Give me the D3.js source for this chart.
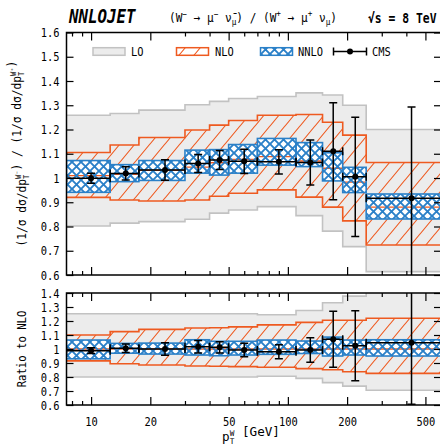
<!DOCTYPE html>
<html>
<head>
<meta charset="utf-8">
<script src="https://cdn.jsdelivr.net/npm/d3@7"></script>
<style>
  html, body { margin: 0; padding: 0; background: #fff; }
  svg { display: block; font-family: "DejaVu Sans Mono", monospace; }
</style>
</head>
<body>
<svg id="chart" width="440" height="448"></svg>
<script>
// ---- bins in pT^W [GeV] ----
const binEdges = [7.5, 12.5, 17.5, 30, 40, 50, 70, 110, 150, 190, 250, 600];

// ---- upper panel: (1/σ dσ/dpT)(W-) / (1/σ dσ/dpT)(W+) ----
const loLow      = [0.802, 0.814, 0.820, 0.830, 0.855, 0.868, 0.882, 0.845, 0.781, 0.717, 0.614];
const loHigh     = [1.259, 1.266, 1.280, 1.302, 1.316, 1.328, 1.336, 1.351, 1.342, 1.300, 1.200];
const nloLow     = [0.920, 0.909, 0.905, 0.909, 0.925, 0.937, 0.951, 0.921, 0.880, 0.823, 0.724];
const nloHigh    = [1.105, 1.136, 1.167, 1.198, 1.218, 1.237, 1.259, 1.262, 1.230, 1.177, 1.064];
const nloCentral = [1.010, 1.015, 1.032, 1.045, 1.063, 1.077, 1.088, 1.070, 1.040, 0.983, 0.880];
const nnloLow    = [0.941, 0.985, 0.990, 1.020, 1.012, 1.020, 1.053, 1.047, 0.988, 0.940, 0.831];
const nnloHigh   = [1.072, 1.055, 1.072, 1.115, 1.117, 1.138, 1.163, 1.146, 1.104, 1.044, 0.934];

const cmsPt  = [10, 15, 23.75, 35, 45, 60, 90, 130, 170, 220, 425];
const cmsVal = [0.999, 1.019, 1.033, 1.060, 1.074, 1.069, 1.067, 1.064, 1.110, 1.005, 0.916];
const cmsErr = [0.021, 0.027, 0.042, 0.037, 0.039, 0.050, 0.050, 0.093, 0.200, 0.246, 0.377];

// ---- lower panel: ratio to NLO ----
const loRatioLow    = [0.800, 0.800, 0.800, 0.800, 0.800, 0.800, 0.805, 0.790, 0.760, 0.735, 0.705];
const loRatioHigh   = [1.252, 1.252, 1.252, 1.252, 1.252, 1.252, 1.245, 1.275, 1.330, 1.378, 1.420];
const nloRatioLow   = [0.915, 0.895, 0.886, 0.879, 0.877, 0.874, 0.870, 0.860, 0.852, 0.838, 0.826];
const nloRatioHigh  = [1.100, 1.124, 1.140, 1.150, 1.152, 1.158, 1.172, 1.190, 1.205, 1.205, 1.220];
const nnloRatioLow  = [0.930, 0.970, 0.964, 0.957, 0.952, 0.957, 0.962, 0.968, 0.950, 0.957, 0.950];
const nnloRatioHigh = [1.064, 1.040, 1.042, 1.066, 1.055, 1.055, 1.064, 1.057, 1.085, 1.064, 1.066];
const cmsRatioVal   = [0.988, 1.005, 1.000, 1.016, 1.012, 0.993, 0.981, 0.993, 1.069, 1.024, 1.045];
const cmsRatioErr   = [0.021, 0.030, 0.045, 0.045, 0.040, 0.048, 0.050, 0.087, 0.200, 0.250, 0.440];

// ---- axis ticks ----
const xMajorTicks = [10, 20, 50, 100, 200, 500];
const xMinorTicks = [8, 9, 30, 40, 60, 70, 80, 90, 300, 400];
const yTicksMain  = [0.6, 0.7, 0.8, 0.9, 1, 1.1, 1.2, 1.3, 1.4, 1.5, 1.6];
const yTicksRatio = [0.6, 0.7, 0.8, 0.9, 1, 1.1, 1.2, 1.3, 1.4];

const legendLabels = ["LO", "NLO", "NNLO", "CMS"];

// ---- styling ----
const LO_FILL = "#ececec", LO_EDGE = "#c2c2c2";
const NLO_COL = "#ee5a20";
const NNLO_COL = "#2a80c8";
const FONT = 13, SQUEEZE = 0.8;

const svg = d3.select("#chart");
const defs = svg.append("defs");

// single diagonal hatch for NLO
const hw = 15, hh = 18;
defs.append("pattern")
  .attr("id", "nloHatch").attr("patternUnits", "userSpaceOnUse")
  .attr("width", hw).attr("height", hh)
  .append("path")
  .attr("d", `M0,${hh} L${hw},0 M${-hw/4},${hh/4} L${hw/4},${-hh/4} M${3*hw/4},${5*hh/4} L${5*hw/4},${3*hh/4}`)
  .attr("stroke", NLO_COL).attr("stroke-width", 1.1).attr("fill", "none");

// cross hatch for NNLO
const cs = 9;
defs.append("pattern")
  .attr("id", "nnloCross").attr("patternUnits", "userSpaceOnUse")
  .attr("width", cs).attr("height", cs)
  .append("path")
  .attr("d", `M-1,-1 L${cs+1},${cs+1} M${cs+1},-1 L-1,${cs+1}`)
  .attr("stroke", NNLO_COL).attr("stroke-width", 1.9).attr("fill", "none");

// squeeze monospace text horizontally
function squeeze(sel, k) {
  sel.each(function () {
    const len = this.getComputedTextLength();
    if (len > 0) d3.select(this).attr("textLength", len * k).attr("lengthAdjust", "spacingAndGlyphs");
  });
}

// text (possibly with tspans) fitted to a given width by a horizontal scale
function fitText(build, { x, y, width, anchor = "start", rotate = 0, size = FONT, weight = "normal", style = "normal" }) {
  const g = svg.append("g");
  const t = g.append("text")
    .attr("font-size", size).attr("font-weight", weight).attr("font-style", style)
    .attr("fill", "#000");
  build(t);
  const w = t.node().getBBox().width;
  t.attr("text-anchor", anchor);
  const k = width / w;
  g.attr("transform", `translate(${x},${y})` + (rotate ? ` rotate(${rotate})` : "") + ` scale(${k},1)`);
  return g;
}

const X0 = 66.5, X1 = 441;
const x = d3.scaleLog().domain([binEdges[0], binEdges[binEdges.length - 1]]).range([X0, X1]);

const bins = binEdges.slice(0, -1).map((e, i) => ({ i, x0: e, x1: binEdges[i + 1] }));

function stepPoints(lo, hi) {
  const pts = bins.map(b => ({ x: b.x0, lo: lo[b.i], hi: hi[b.i] }));
  const n = bins.length - 1;
  pts.push({ x: binEdges[n + 1], lo: lo[n], hi: hi[n] });
  return pts;
}

function drawPanel(cfg) {
  const y = d3.scaleLinear().domain(cfg.domain).range([cfg.bottom, cfg.top]);

  defs.append("clipPath").attr("id", cfg.id + "Clip")
    .append("rect").attr("x", X0).attr("y", cfg.top)
    .attr("width", X1 - X0).attr("height", cfg.bottom - cfg.top);
  const g = svg.append("g").attr("clip-path", `url(#${cfg.id}Clip)`);

  const area = d3.area().curve(d3.curveStepAfter).x(d => x(d.x)).y0(d => y(d.lo)).y1(d => y(d.hi));
  const hiLine = d3.line().curve(d3.curveStepAfter).x(d => x(d.x)).y(d => y(d.hi));
  const loLine = d3.line().curve(d3.curveStepAfter).x(d => x(d.x)).y(d => y(d.lo));

  // LO band
  const lo = stepPoints(cfg.lo[0], cfg.lo[1]);
  g.append("path").attr("d", area(lo)).attr("fill", LO_FILL);
  [hiLine, loLine].forEach(l => g.append("path").attr("d", l(lo))
    .attr("fill", "none").attr("stroke", LO_EDGE).attr("stroke-width", 1.6));

  // NLO band
  const nlo = stepPoints(cfg.nlo[0], cfg.nlo[1]);
  g.append("path").attr("d", area(nlo)).attr("fill", "url(#nloHatch)");
  [hiLine, loLine].forEach(l => g.append("path").attr("d", l(nlo))
    .attr("fill", "none").attr("stroke", NLO_COL).attr("stroke-width", 1.6));

  // NNLO band, one box per bin
  const boxY = b => y(cfg.nnlo[1][b.i]);
  const boxH = b => y(cfg.nnlo[0][b.i]) - y(cfg.nnlo[1][b.i]);
  const boxX = b => x(b.x0);
  const boxW = b => x(b.x1) - x(b.x0);
  g.append("g").selectAll("rect").data(bins).join("rect")
    .attr("x", boxX).attr("y", boxY).attr("width", boxW).attr("height", boxH)
    .attr("fill", "#fff");

  // NLO central value
  g.append("g").selectAll("line").data(bins).join("line")
    .attr("x1", b => x(b.x0)).attr("x2", b => x(b.x1))
    .attr("y1", b => y(cfg.nloCentral[b.i])).attr("y2", b => y(cfg.nloCentral[b.i]))
    .attr("stroke", NLO_COL).attr("stroke-width", 1.4);

  g.append("g").selectAll("rect").data(bins).join("rect")
    .attr("x", boxX).attr("y", boxY).attr("width", boxW).attr("height", boxH)
    .attr("fill", "url(#nnloCross)").attr("stroke", NNLO_COL).attr("stroke-width", 1.6);

  // CMS data
  const cms = g.append("g").attr("stroke", "#000").attr("stroke-width", 1.5);
  const cap = 4;
  bins.forEach(b => {
    const v = cfg.cms[0][b.i], e = cfg.cms[1][b.i];
    const cx = x(cmsPt[b.i]), cy = y(v);
    cms.append("line").attr("x1", x(b.x0)).attr("x2", x(b.x1)).attr("y1", cy).attr("y2", cy);
    cms.append("line").attr("x1", x(b.x0)).attr("x2", x(b.x0)).attr("y1", cy - cap).attr("y2", cy + cap);
    cms.append("line").attr("x1", x(b.x1)).attr("x2", x(b.x1)).attr("y1", cy - cap).attr("y2", cy + cap);
    cms.append("line").attr("x1", cx).attr("x2", cx).attr("y1", y(v - e)).attr("y2", y(v + e));
    cms.append("line").attr("x1", cx - cap).attr("x2", cx + cap).attr("y1", y(v - e)).attr("y2", y(v - e));
    cms.append("line").attr("x1", cx - cap).attr("x2", cx + cap).attr("y1", y(v + e)).attr("y2", y(v + e));
    cms.append("circle").attr("cx", cx).attr("cy", cy).attr("r", 3).attr("fill", "#000").attr("stroke", "none");
  });

  // axes (ticks point inward on all four sides)
  const fmt = d3.format("~g");
  const ax = svg.append("g").attr("font-family", "DejaVu Sans Mono").attr("font-size", FONT);
  const clean = sel => {
    sel.select(".domain").remove();
    sel.selectAll(".tick line").attr("stroke", "#000").attr("stroke-width", 1.2);
    sel.selectAll(".tick text").attr("fill", "#000").attr("font-family", "DejaVu Sans Mono").attr("font-size", FONT);
  };

  const left = ax.append("g").attr("transform", `translate(${X0},0)`)
    .call(d3.axisLeft(y).tickValues(cfg.yTicks).tickSize(-7).tickPadding(7).tickFormat(fmt)).call(clean);
  squeeze(left.selectAll(".tick text"), SQUEEZE);
  ax.append("g").attr("transform", `translate(${X1},0)`)
    .call(d3.axisRight(y).tickValues(cfg.yTicks).tickSize(-7).tickFormat("")).call(clean);

  ax.append("g").attr("transform", `translate(0,${cfg.top})`)
    .call(d3.axisTop(x).tickValues(xMajorTicks).tickSize(-8).tickFormat("")).call(clean);
  ax.append("g").attr("transform", `translate(0,${cfg.top})`)
    .call(d3.axisTop(x).tickValues(xMinorTicks).tickSize(-4).tickFormat("")).call(clean);
  const bottom = ax.append("g").attr("transform", `translate(0,${cfg.bottom})`)
    .call(d3.axisBottom(x).tickValues(xMajorTicks).tickSize(-8).tickPadding(12)
      .tickFormat(cfg.xLabels ? fmt : "")).call(clean);
  squeeze(bottom.selectAll(".tick text"), SQUEEZE);
  ax.append("g").attr("transform", `translate(0,${cfg.bottom})`)
    .call(d3.axisBottom(x).tickValues(xMinorTicks).tickSize(-4).tickFormat("")).call(clean);

  // frame
  svg.append("rect").attr("x", X0).attr("y", cfg.top)
    .attr("width", X1 - X0).attr("height", cfg.bottom - cfg.top)
    .attr("fill", "none").attr("stroke", "#000").attr("stroke-width", 1.5);
}

drawPanel({
  id: "main", top: 32.5, bottom: 275, domain: [0.6, 1.6], yTicks: yTicksMain,
  lo: [loLow, loHigh], nlo: [nloLow, nloHigh], nnlo: [nnloLow, nnloHigh],
  nloCentral: nloCentral, cms: [cmsVal, cmsErr], xLabels: false
});

drawPanel({
  id: "ratio", top: 293, bottom: 405, domain: [0.6, 1.4], yTicks: yTicksRatio,
  lo: [loRatioLow, loRatioHigh], nlo: [nloRatioLow, nloRatioHigh], nnlo: [nnloRatioLow, nnloRatioHigh],
  nloCentral: nloCentral.map(c => c / c), cms: [cmsRatioVal, cmsRatioErr], xLabels: true
});

// ---- legend ----
const leg = svg.append("g");
const legY = 51.5;
leg.append("rect").attr("x", 93).attr("y", legY - 3.8).attr("width", 32).attr("height", 7.6)
  .attr("fill", LO_FILL).attr("stroke", LO_EDGE).attr("stroke-width", 1.5);
leg.append("rect").attr("x", 176.5).attr("y", legY - 3.8).attr("width", 32).attr("height", 7.6)
  .attr("fill", "url(#nloHatch)").attr("stroke", NLO_COL).attr("stroke-width", 1.5);
leg.append("rect").attr("x", 260.5).attr("y", legY - 3.8).attr("width", 32).attr("height", 7.6)
  .attr("fill", "url(#nnloCross)").attr("stroke", NNLO_COL).attr("stroke-width", 1.5);
const lc = leg.append("g").attr("stroke", "#000").attr("stroke-width", 1.5);
lc.append("line").attr("x1", 333.5).attr("x2", 366.5).attr("y1", legY).attr("y2", legY);
lc.append("line").attr("x1", 333.5).attr("x2", 333.5).attr("y1", legY - 4).attr("y2", legY + 4);
lc.append("line").attr("x1", 366.5).attr("x2", 366.5).attr("y1", legY - 4).attr("y2", legY + 4);
lc.append("circle").attr("cx", 350).attr("cy", legY).attr("r", 3).attr("fill", "#000").attr("stroke", "none");

const legX = [131, 215, 298, 372];
leg.selectAll("text.lab").data(legendLabels).join("text")
  .attr("class", "lab").attr("x", (d, i) => legX[i]).attr("y", legY + 4.8)
  .attr("font-size", FONT).attr("fill", "#000").text(d => d)
  .call(s => squeeze(s, SQUEEZE));

// ---- header ----
fitText(t => t.text("NNLOJET"),
  { x: 69, y: 23, width: 68, size: 20, weight: "bold", style: "italic" });

fitText(t => {
  t.append("tspan").text("(W");
  t.append("tspan").attr("font-size", 9).attr("dy", -5).text("−");
  t.append("tspan").attr("dy", 5).text(" → μ");
  t.append("tspan").attr("font-size", 9).attr("dy", -5).text("−");
  t.append("tspan").attr("dy", 5).text(" ν̄");
  t.append("tspan").attr("font-size", 9).attr("dy", 3).text("μ");
  t.append("tspan").attr("dy", -3).text(") / (W");
  t.append("tspan").attr("font-size", 9).attr("dy", -5).text("+");
  t.append("tspan").attr("dy", 5).text(" → μ");
  t.append("tspan").attr("font-size", 9).attr("dy", -5).text("+");
  t.append("tspan").attr("dy", 5).text(" ν");
  t.append("tspan").attr("font-size", 9).attr("dy", 3).text("μ");
  t.append("tspan").attr("dy", -3).text(")");
}, { x: 169, y: 22, width: 168, size: 13 });

fitText(t => t.text("√s = 8 TeV"),
  { x: 368, y: 23, width: 69, size: 14, weight: "bold" });

// ---- axis titles ----
// p_T with a stacked superscript
function ptSymbol(t, sup) {
  t.append("tspan").text("p");
  t.append("tspan").attr("font-size", 8).attr("dy", 3).text("T");
  t.append("tspan").attr("font-size", 8).attr("dx", -4.8).attr("dy", -8).text(sup);
  t.append("tspan").attr("dy", 5).text("");
}

fitText(t => {
  t.append("tspan").text("(1/σ dσ/d");
  ptSymbol(t, "W⁻");
  t.append("tspan").text(") / (1/σ dσ/d");
  ptSymbol(t, "W⁺");
  t.append("tspan").text(")");
}, { x: 26, y: 153.7, width: 186, anchor: "middle", rotate: -90, size: 13 });

fitText(t => t.text("Ratio to NLO"),
  { x: 26, y: 349, width: 77, anchor: "middle", rotate: -90, size: 13 });

fitText(t => {
  ptSymbol(t, "W");
  t.append("tspan").text(" [GeV]");
}, { x: 251, y: 441, width: 58, anchor: "middle", size: 13 });
</script>
</body>
</html>
